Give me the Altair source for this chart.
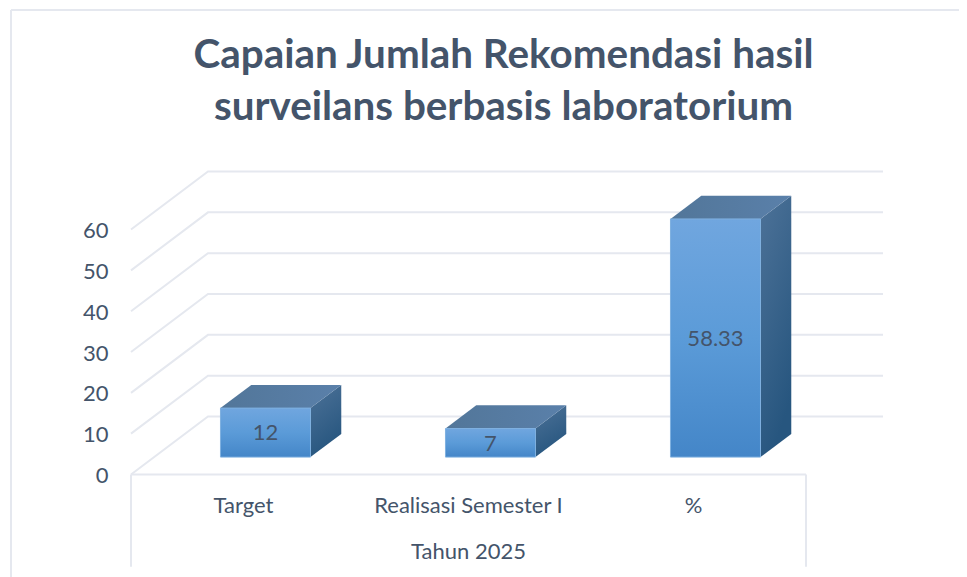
import altair as alt
import pandas as pd

categories = ["Target", "Realisasi Semester I", "%"]
values = [12, 7, 58.33]
value_labels = ["12", "7", "58.33"]
y_ticks = [0, 10, 20, 30, 40, 50, 60]
group_label = "Tahun 2025"
title_lines = ["Capaian Jumlah Rekomendasi hasil", "surveilans berbasis laboratorium"]

# ---- oblique projection of the 3-D chart box (category units / value units)
PX_PER_VALUE = 4.083
PX_PER_CAT = 225.0
DX = 77 / PX_PER_CAT      # horizontal shift of the full box depth
DY = 58 / PX_PER_VALUE    # vertical shift of the full box depth
BAR_D0, BAR_D1 = 0.30, 0.70
BAR_C0, BAR_C1 = 0.295, 0.695

W, H = 753, 408
X_DOMAIN = [0, W / PX_PER_CAT]
Y_DOMAIN = [(474.5 - 568) / PX_PER_VALUE, (474.5 - 160) / PX_PER_VALUE]
LABEL_Y = -7.7
GROUP_Y = -18.9
BOTTOM = -22.6

FONT = "Lato"
TEXT = "#44546A"
GRID = "#E5E8EF"

x_scale = alt.Scale(domain=X_DOMAIN, nice=False, zero=False)
y_scale = alt.Scale(domain=Y_DOMAIN, nice=False, zero=False)
y_axis = alt.Axis(values=y_ticks, domain=False, ticks=False, grid=False, title=None,
                  labelFont=FONT, labelFontSize=22, labelColor=TEXT, labelPadding=23,
                  labelBaseline="middle", labelOffset=1)
Xp = lambda f="x": alt.X(f"{f}:Q", scale=x_scale, axis=None)
Yp = lambda f="y": alt.Y(f"{f}:Q", scale=y_scale, axis=y_axis)


def grad(stops, x2=0, y2=1):
    return alt.LinearGradient(
        gradient="linear", x1=0, y1=0, x2=x2, y2=y2,
        stops=[alt.GradientStop(offset=o, color=c) for o, c in stops],
    )


# gridlines: front edge -> back wall -> right end
grid_rows = []
for t in y_ticks:
    grid_rows += [
        {"t": t, "i": 0, "x": 0, "y": t},
        {"t": t, "i": 1, "x": DX, "y": t + DY},
        {"t": t, "i": 2, "x": 3 + DX, "y": t + DY},
    ]
grid = alt.Chart(pd.DataFrame(grid_rows)).mark_line(color=GRID, strokeWidth=2, clip=False).encode(
    x=Xp(), y=Yp(), detail="t:N", order="i:Q"
)

# bracket of the category axis
bracket_h = alt.Chart(pd.DataFrame({"x": [0], "x2": [3], "y": [0]})).mark_rule(color=GRID, strokeWidth=2).encode(
    x=Xp(), x2="x2:Q", y=Yp()
)
bracket_v = alt.Chart(pd.DataFrame({"x": [0, 3], "y": [0, 0], "y2": [BOTTOM, BOTTOM]})).mark_rule(color=GRID, strokeWidth=2).encode(
    x=Xp(), y=Yp(), y2="y2:Q"
)

rows = []
for i, (c, v) in enumerate(zip(categories, values)):
    rows.append(dict(c=c, v=v, lab=value_labels[i],
                     x0=i + BAR_C0 + BAR_D0 * DX, x1=i + BAR_C1 + BAR_D0 * DX,
                     y0=BAR_D0 * DY, y1=v + BAR_D0 * DY,
                     xm=i + 0.495 + BAR_D0 * DX, ym=v / 2 + BAR_D0 * DY - 0.2))
bars = pd.DataFrame(rows)

# side faces
side_rows = []
for i, v in enumerate(values):
    for d in (BAR_D0, BAR_D1):
        side_rows.append(dict(c=i, x=i + BAR_C1 + d * DX, y=v + d * DY, y2=d * DY))
side = alt.Chart(pd.DataFrame(side_rows)).mark_area(
    color=grad([(0, "#4D7298"), (1, "#27567F")], x2=0.35)
).encode(x=Xp(), y=Yp(), y2="y2:Q", detail="c:N")

# top faces
top_rows = []
for i, v in enumerate(values):
    for d in (BAR_D0, BAR_D1):
        top_rows.append(dict(c=i, x=i + BAR_C0 + d * DX, x2=i + BAR_C1 + d * DX, y=v + d * DY))
top = alt.Chart(pd.DataFrame(top_rows)).mark_area(
    orient="horizontal", color=grad([(0, "#527699"), (1, "#5A80AA")], x2=1, y2=0)
).encode(x=Xp(), x2="x2:Q", y=Yp(), detail="c:N")

# front faces
front = alt.Chart(bars).mark_rect(
    fill=grad([(0, "#70A6DF"), (0.5, "#5B9BD8"), (1, "#4486C8")]),
    stroke="#7FB0E0", strokeWidth=1,
).encode(x=Xp("x0"), x2="x1:Q", y=Yp("y0"), y2="y1:Q")

val_text = alt.Chart(bars).mark_text(font=FONT, fontSize=22, color=TEXT).encode(
    x=Xp("xm"), y=Yp("ym"), text="lab:N"
)

cat_df = pd.DataFrame({"x": [i + 0.5 for i in range(3)], "y": [LABEL_Y] * 3, "t": categories})
cat_text = alt.Chart(cat_df).mark_text(font=FONT, fontSize=22, color=TEXT).encode(
    x=Xp(), y=Yp(), text="t:N"
)
grp_text = alt.Chart(pd.DataFrame({"x": [1.5], "y": [GROUP_Y], "t": [group_label]})).mark_text(
    font=FONT, fontSize=22, color=TEXT
).encode(x=Xp(), y=Yp(), text="t:N")

# chart frame (top and left edges)
frame_top = alt.Chart(pd.DataFrame({"a": [0]})).mark_rule(color=GRID, strokeWidth=2).encode(
    x=alt.value(-120), x2=alt.value(828), y=alt.value(-150)
)
frame_left = alt.Chart(pd.DataFrame({"a": [0]})).mark_rule(color=GRID, strokeWidth=2).encode(
    x=alt.value(-120), y=alt.value(-150), y2=alt.value(417)
)

chart = alt.layer(
    grid, frame_top, frame_left, bracket_h, bracket_v, side, top, front, val_text, cat_text, grp_text
).properties(
    width=W, height=H,
    padding={"left": 123, "top": 152, "right": 75, "bottom": 9},
    autosize=alt.AutoSizeParams(type="none"),
    title=alt.TitleParams(
        text=title_lines, font=FONT, fontSize=40.4, fontWeight="bold", color=TEXT,
        anchor="middle", frame="group", dx=-4, lineHeight=52, offset=-159, baseline="bottom",
    ),
).configure_view(stroke=None)

chart.save("out.html", embed_options={"renderer": "svg", "actions": False})
